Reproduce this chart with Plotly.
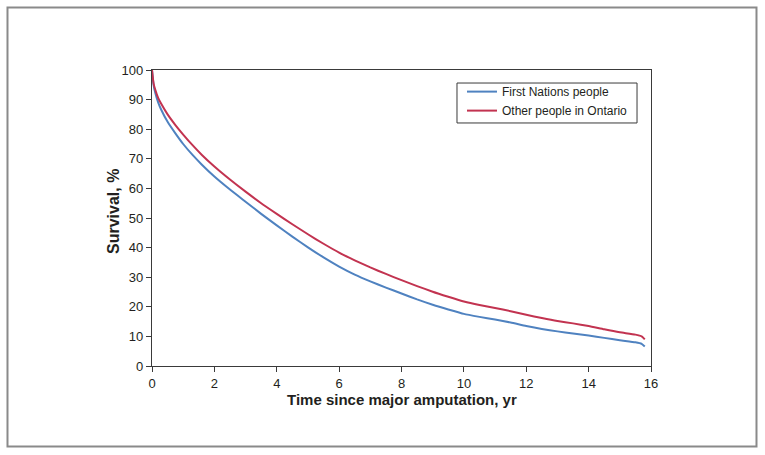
import plotly.graph_objects as go

# Time since major amputation (yr)
t_fn = [0, 0.05, 0.1, 0.2, 0.3, 0.5, 0.75, 1, 1.3, 1.6, 2, 2.5, 3, 3.5, 4, 4.5, 5, 5.5, 6, 6.5,
        7, 7.5, 8, 8.5, 9, 9.5, 10, 10.5, 11, 11.5, 12, 12.5, 13, 13.5, 14, 14.5, 15, 15.5, 15.7, 15.8]
surv_fn = [100, 95, 92.5, 89, 86.5, 82.5, 78.6, 75, 71.3, 68, 64, 59.6, 55.5, 51.4, 47.5, 43.7, 40.1, 36.7, 33.6, 30.9,
           28.6, 26.5, 24.5, 22.5, 20.7, 19.1, 17.6, 16.6, 15.7, 14.7, 13.5, 12.5, 11.7, 11, 10.3, 9.5, 8.7, 8, 7.5, 6.6]

t_other = t_fn
surv_other = [100, 95.5, 93.5, 90.5, 88.5, 85, 81.4, 78.2, 74.6, 71.3, 67.4, 63, 58.9, 55, 51.4, 47.9, 44.5, 41.3, 38.3, 35.7,
              33.3, 31.1, 29, 27, 25.1, 23.4, 21.8, 20.6, 19.6, 18.5, 17.3, 16.2, 15.2, 14.4, 13.5, 12.4, 11.4, 10.6, 10, 9]

series_names = ["First Nations people", "Other people in Ontario"]
x_ticks = [0, 2, 4, 6, 8, 10, 12, 14, 16]
y_ticks = [0, 10, 20, 30, 40, 50, 60, 70, 80, 90, 100]

FONT = "Liberation Sans, Arial, Helvetica, sans-serif"
AX = "#3a3a3a"

fig = go.Figure()
fig.add_trace(go.Scatter(x=t_fn, y=surv_fn, mode="lines", name=series_names[0],
                         line=dict(color="#4f82c0", width=2, shape="spline", smoothing=0.5)))
fig.add_trace(go.Scatter(x=t_other, y=surv_other, mode="lines", name=series_names[1],
                         line=dict(color="#c23350", width=2, shape="spline", smoothing=0.5)))

axis_common = dict(showline=True, linecolor=AX, linewidth=1.3, mirror=True,
                   ticks="outside", ticklen=5, tickwidth=1.2, tickcolor=AX,
                   showgrid=False, zeroline=False,
                   tickfont=dict(family=FONT, size=13, color="#231f20"))

fig.update_xaxes(range=[0, 16], tickvals=x_ticks, ticktext=[str(v) for v in x_ticks], **axis_common)
fig.update_yaxes(range=[0, 100], tickvals=y_ticks, ticktext=[str(v) for v in y_ticks], **axis_common)

fig.update_layout(
    width=765, height=455,
    margin=dict(l=152, r=114, t=70, b=89),
    paper_bgcolor="white", plot_bgcolor="white",
    showlegend=True,
    legend=dict(x=0.6212, y=0.976, xanchor="left", yanchor="top",
                borderwidth=0, bgcolor="rgba(0,0,0,0)",
                font=dict(family=FONT, size=12, color="#231f20"),
                tracegroupgap=0),
    annotations=[
        dict(text="Time since major amputation, yr", xref="paper", yref="paper",
             x=0.5, y=-0.1115, xanchor="center", yanchor="middle", showarrow=False,
             font=dict(family=FONT, size=15, color="#231f20", weight="bold")),
        dict(text="Survival, %", xref="paper", yref="paper", textangle=-90,
             x=-0.0782, y=0.5236, xanchor="center", yanchor="middle", showarrow=False,
             font=dict(family=FONT, size=16, color="#231f20", weight="bold")),
    ],
    shapes=[
        dict(type="rect", xref="paper", yref="paper",
             x0=-0.2896, x1=1.2114, y0=-0.2720, y1=1.2111,
             line=dict(color="#8a8a8a", width=2), fillcolor="rgba(0,0,0,0)", layer="below"),
        dict(type="rect", xref="paper", yref="paper",
             x0=0.6112, x1=0.972, y0=0.821, y1=0.956,
             line=dict(color=AX, width=1), fillcolor="rgba(0,0,0,0)", layer="above"),
    ],
)

fig.write_html("out.html", config={"displayModeBar": False},
               post_script="document.body.style.margin='0px';")
